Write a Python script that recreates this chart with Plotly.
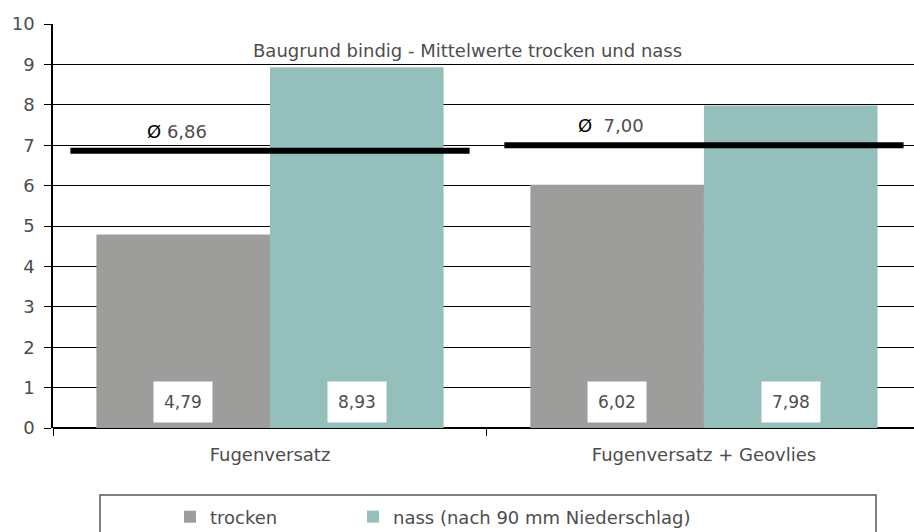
import plotly.graph_objects as go

# data
categories = ["Fugenversatz", "Fugenversatz + Geovlies"]
trocken = [4.79, 6.02]
nass = [8.93, 7.98]
mittelwerte = [6.86, 7.00]
mittel_labels = ["Ø 6,86", "Ø  7,00"]
series_names = ["trocken", "nass (nach 90 mm Niederschlag)"]
colors = ["#9d9d9c", "#95bfba"]

font = "DejaVu Sans"
txt = "#4d4d4d"
xpos = list(range(len(categories)))
W, L = 861, 53  # plot width / left edge in px
H, T = 404, 24

def px(xp):
    return (xp - L) / W

def py(yp):
    return (T + H - yp) / H

fig = go.Figure()

# bars, each series gets its own legend so they can be placed freely
for k, (vals, name, col) in enumerate(zip([trocken, nass], series_names, colors)):
    fig.add_trace(go.Bar(x=xpos, y=vals, name=name, marker_color=col,
                         marker_line_width=0, hoverinfo="skip",
                         legend="legend" if k == 0 else "legend2"))

# average lines per group
for i, m in enumerate(mittelwerte):
    fig.add_trace(go.Scatter(x=[i - 0.46, i + 0.46], y=[m, m], mode="lines",
                             line=dict(color="black", width=6),
                             showlegend=False, hoverinfo="skip"))
    sym, num = mittel_labels[i].split(" ", 1)
    fig.add_annotation(x=i - 0.215, y=m + 0.18, xref="x", yref="y",
                       text="<span style='color:black'>" + sym + "</span> " + num,
                       showarrow=False, yanchor="bottom",
                       font=dict(family=font, size=18, color=txt))

# value labels in white boxes
for off, vals in zip([-0.2, 0.2], [trocken, nass]):
    for i, v in enumerate(vals):
        fig.add_annotation(x=i + off, y=0, xref="x", yref="y",
                           text=("%.2f" % v).replace(".", ","),
                           showarrow=False, yanchor="bottom", yshift=5,
                           bgcolor="white", borderpad=10,
                           font=dict(family=font, size=17, color=txt))

# title inside plot
fig.add_annotation(x=px(467), y=py(38), xref="paper", yref="paper",
                   text="Baugrund bindig - Mittelwerte trocken und nass",
                   showarrow=False, font=dict(family=font, size=18, color=txt))

# legend box
fig.add_shape(type="rect", xref="paper", yref="paper",
              x0=px(100), x1=px(876), y0=py(560), y1=py(495),
              line=dict(color="#555", width=1.5), fillcolor="rgba(0,0,0,0)")

leg = dict(orientation="h", yanchor="middle", xanchor="left", y=py(517),
           font=dict(family=font, size=18, color=txt), bgcolor="rgba(0,0,0,0)")

fig.update_layout(
    width=914, height=532,
    margin=dict(l=L, r=0, t=T, b=532 - T - H, autoexpand=False),
    paper_bgcolor="white", plot_bgcolor="white",
    barmode="group", bargap=0.2, bargroupgap=0,
    font=dict(family=font, size=18, color=txt),
    legend=dict(leg, x=px(170)),
    legend2=dict(leg, x=px(353)),
    xaxis=dict(range=[-0.5, 1.484], tickvals=xpos, ticktext=categories, ticks="",
               showgrid=False, zeroline=False, showline=False,
               ticklabelstandoff=14, tickfont=dict(size=18, color=txt)),
    yaxis=dict(range=[0, 10], dtick=1, ticks="outside", ticklen=7, tickcolor="black",
               showgrid=True, gridcolor="black", gridwidth=1,
               showline=True, linecolor="black", linewidth=1.5,
               zeroline=True, zerolinecolor="black", zerolinewidth=1.5,
               ticklabelstandoff=6, tickfont=dict(size=18, color=txt)),
)
fig.update_xaxes(minor=dict(tickvals=[-0.5, 0.5, 1.5], ticks="outside", ticklen=7,
                            tickcolor="black", tickwidth=1, showgrid=False))

# page body has an 8px default margin; drop it so the figure fills the window
fig.write_html("out.html", config={"displayModeBar": False},
               post_script="document.body.style.margin='0';")
